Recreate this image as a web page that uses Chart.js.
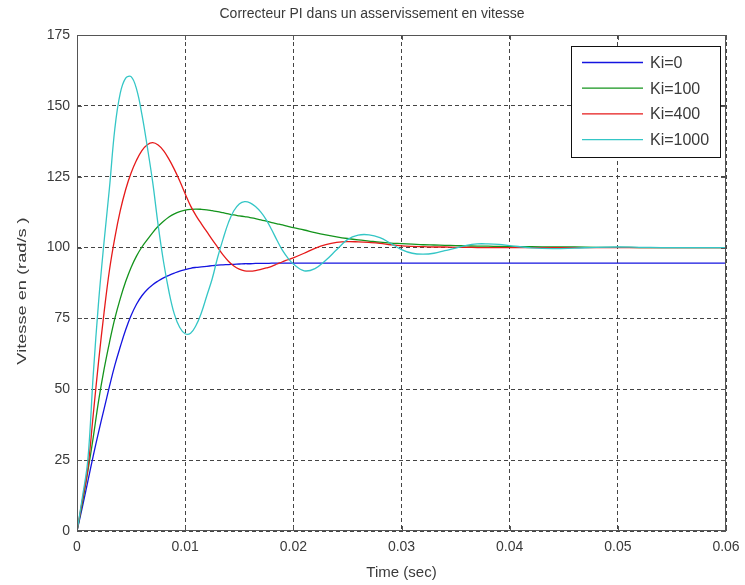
<!DOCTYPE html>
<html lang="fr">
<head>
    <meta charset="UTF-8">
    <title>Correcteur PI dans un asservissement en vitesse</title>
    <script src="https://cdn.jsdelivr.net/npm/chart.js"></script>
    <style>
        html, body { margin: 0; padding: 0; background: #ffffff; }
        .chart-container { width: 745px; height: 585px; }
    </style>
</head>
<body>

<div class="chart-container">
    <canvas id="piChart"></canvas>
</div>

<script>
    // temps (s)
    const time = [
        0, 0.0005, 0.001, 0.0015, 0.002, 0.0025, 0.003, 0.0035, 0.004, 0.0045,
        0.005, 0.0055, 0.006, 0.0065, 0.007, 0.0075, 0.008, 0.0085, 0.009, 0.0095,
        0.01, 0.0105, 0.011, 0.0115, 0.012, 0.0125, 0.013, 0.0135, 0.014, 0.0145,
        0.015, 0.0155, 0.016, 0.0165, 0.017, 0.0175, 0.018, 0.0185, 0.019, 0.0195,
        0.02,
        0.021, 0.022, 0.023, 0.024, 0.025, 0.026, 0.027, 0.028, 0.029, 0.03,
        0.031, 0.032, 0.033, 0.034, 0.035, 0.036, 0.037, 0.038, 0.039, 0.04,
        0.042, 0.044, 0.046, 0.048, 0.05, 0.052, 0.054, 0.056, 0.058, 0.06
    ];

    const ki0 = [
        0, 8.5, 17.5, 26.5, 35, 43, 51, 58.5, 65, 71,
        76, 80, 83, 85.2, 86.9, 88.2, 89.3, 90.2, 91, 91.7,
        92.2, 92.7, 93, 93.2, 93.4, 93.6, 93.8, 93.9, 94, 94.1,
        94.2, 94.3, 94.3, 94.4, 94.4, 94.4, 94.5, 94.5, 94.5, 94.5,
        94.5,
        94.5, 94.5, 94.5, 94.5, 94.5, 94.5, 94.5, 94.5, 94.5, 94.5,
        94.5, 94.5, 94.5, 94.5, 94.5, 94.5, 94.5, 94.5, 94.5, 94.5,
        94.5, 94.5, 94.5, 94.5, 94.5, 94.5, 94.5, 94.5, 94.5, 94.5
    ];

    const ki100 = [
        0, 10, 21, 33, 46, 57, 66.5, 75, 82, 88,
        93, 97, 100.2, 102.8, 105.3, 107.5, 109.3, 110.8, 111.9, 112.7,
        113.2, 113.5, 113.6, 113.5, 113.3, 113, 112.7, 112.3, 111.9, 111.5,
        111.2, 110.9, 110.6, 110.2, 109.8, 109.3, 108.8, 108.4, 108, 107.5,
        107,
        106.2, 105.3, 104.5, 103.8, 103.2, 102.7, 102.3, 101.9, 101.6, 101.4,
        101.2, 101, 100.9, 100.8, 100.7, 100.6, 100.5, 100.5, 100.4, 100.4,
        100.3, 100.2, 100.2, 100.1, 100.1, 100, 100, 100, 100, 100
    ];

    const ki400 = [
        0, 11, 22, 41, 60, 77, 92, 103.5, 113, 120.5,
        126.3, 130.8, 134.2, 136.3, 137, 136.2, 134.2, 131.2, 127.6, 123.5,
        119, 114.7, 111.3, 108.4, 105.6, 102.8, 100.1, 97.4, 95.2, 93.5,
        92.4, 91.8, 91.7, 91.9, 92.3, 92.8, 93.4, 94.2, 95, 95.7,
        96.4,
        98, 99.7, 101, 101.8, 102.1, 102, 101.8, 101.5, 101, 100.6,
        100.4, 100.3, 100.2, 100.2, 100.1, 100.1, 100, 100, 100, 100,
        100, 100, 100, 100, 100, 100, 100, 100, 100, 100
    ];

    const ki1000 = [
        0, 12, 25, 55, 81, 102, 121, 142, 154.5, 159.8,
        160.3, 156, 147, 135.5, 123, 108, 95, 84.5, 76.5, 71.8,
        69.6, 69.8, 72.5, 77, 83, 89, 96.5, 103, 108.8, 113,
        115.4, 116.2, 115.8, 114.5, 112.5, 109.8, 106.3, 102.5, 99, 96.3,
        94.2,
        91.8, 92.6, 95.5, 99.2, 102.8, 104.4, 104.5, 103.5, 101.5, 99.3,
        98, 97.7, 98, 98.9, 99.8, 100.8, 101.3, 101.3, 101.1, 100.7,
        99.9, 99.6, 99.8, 100.1, 100.2, 100.1, 100, 100, 100, 100
    ];

    const labels = ['Ki=0', 'Ki=100', 'Ki=400', 'Ki=1000'];
    const colors = ['#1414e0', '#14941c', '#e61a1a', '#34c6c6'];
    const series = [ki0, ki100, ki400, ki1000];

    const xTicks = [0, 0.01, 0.02, 0.03, 0.04, 0.05, 0.06];
    const yTicks = [0, 25, 50, 75, 100, 125, 150, 175];

    const FONT = "'Liberation Sans', Arial, sans-serif";
    const TXT = '#3a3a3a';

    // titre, cadre, petites graduations, titre vertical et légende
    const matlabFrame = {
        id: 'matlabFrame',
        afterDraw(chart) {
            const { ctx, chartArea: a, scales } = chart;
            ctx.save();

            ctx.font = '14px ' + FONT;
            ctx.fillStyle = TXT;
            ctx.textAlign = 'center';
            ctx.textBaseline = 'middle';
            ctx.fillText('Correcteur PI dans un asservissement en vitesse', 372, 14);

            ctx.setLineDash([]);
            ctx.strokeStyle = '#555';
            ctx.lineWidth = 1;
            ctx.strokeRect(a.left + 0.5, a.top + 0.5, a.right - a.left - 1, a.bottom - a.top - 1);

            ctx.beginPath();
            xTicks.forEach(v => {
                const x = Math.round(scales.x.getPixelForValue(v)) + 0.5;
                ctx.moveTo(x, a.bottom); ctx.lineTo(x, a.bottom - 5);
                ctx.moveTo(x, a.top); ctx.lineTo(x, a.top + 5);
            });
            yTicks.forEach(v => {
                const y = Math.round(scales.y.getPixelForValue(v)) + 0.5;
                ctx.moveTo(a.left, y); ctx.lineTo(a.left + 5, y);
                ctx.moveTo(a.right, y); ctx.lineTo(a.right - 5, y);
            });
            ctx.stroke();

            // titre de l'axe Y (étiré comme sur l'original)
            ctx.save();
            ctx.translate(22, 291);
            ctx.rotate(-Math.PI / 2);
            ctx.scale(1.4, 1);
            ctx.font = '13px ' + FONT;
            ctx.fillStyle = TXT;
            ctx.textAlign = 'center';
            ctx.textBaseline = 'middle';
            ctx.fillText('Vitesse en (rad/s )', 0, 0);
            ctx.restore();

            // légende
            const bx = 571, by = 46, bw = 149, bh = 111;
            ctx.fillStyle = '#ffffff';
            ctx.fillRect(bx, by, bw, bh);
            ctx.strokeStyle = '#111';
            ctx.strokeRect(bx + 0.5, by + 0.5, bw, bh);
            ctx.font = '16px ' + FONT;
            ctx.textAlign = 'left';
            ctx.textBaseline = 'middle';
            labels.forEach((lab, i) => {
                const y = 62.5 + i * 25.7;
                ctx.strokeStyle = colors[i];
                ctx.lineWidth = 1.3;
                ctx.beginPath();
                ctx.moveTo(582, y); ctx.lineTo(643, y);
                ctx.stroke();
                ctx.fillStyle = TXT;
                ctx.fillText(lab, 650, y + 1);
            });
            ctx.restore();
        }
    };

    const ctx = document.getElementById('piChart').getContext('2d');
    new Chart(ctx, {
        type: 'line',
        data: {
            datasets: series.map((s, i) => ({
                label: labels[i],
                data: time.map((t, j) => ({ x: t, y: s[j] })),
                borderColor: colors[i],
                backgroundColor: colors[i],
                borderWidth: 1.3,
                pointRadius: 0,
                fill: false,
                tension: 0.4,
                order: 4 - i
            }))
        },
        options: {
            responsive: true,
            maintainAspectRatio: false,
            animation: false,
            layout: { padding: { left: 0, right: 19, top: 35, bottom: 0 } },
            plugins: {
                legend: { display: false },
                tooltip: { enabled: false },
                title: { display: false }
            },
            scales: {
                x: {
                    type: 'linear',
                    min: 0,
                    max: 0.06,
                    afterBuildTicks: axis => { axis.ticks = xTicks.map(v => ({ value: v })); },
                    afterFit: axis => {
                        axis.height = 54;
                        axis.paddingLeft = 0;
                        axis.paddingRight = 0;
                    },
                    ticks: {
                        color: TXT,
                        font: { family: FONT, size: 14 },
                        padding: 8,
                        maxRotation: 0,
                        callback: v => String(Number(v.toFixed(2)))
                    },
                    grid: { color: '#444', lineWidth: 1, drawTicks: false },
                    border: { display: false, dash: [4, 3] },
                    title: {
                        display: true,
                        text: 'Time (sec)',
                        color: TXT,
                        font: { family: FONT, size: 15 },
                        padding: { top: 4, bottom: 3 }
                    }
                },
                y: {
                    min: 0,
                    max: 175,
                    afterBuildTicks: axis => { axis.ticks = yTicks.map(v => ({ value: v })); },
                    afterFit: axis => {
                        axis.width = 77;
                        axis.paddingTop = 0;
                        axis.paddingBottom = 0;
                    },
                    ticks: {
                        color: TXT,
                        font: { family: FONT, size: 14 },
                        padding: 7
                    },
                    grid: { color: '#444', lineWidth: 1, drawTicks: false },
                    border: { display: false, dash: [4, 3] }
                }
            }
        },
        plugins: [matlabFrame]
    });
</script>

</body>
</html>
